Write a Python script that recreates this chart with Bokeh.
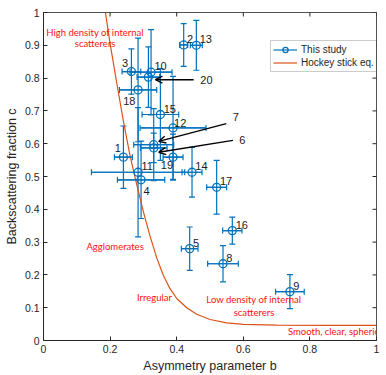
import math
from bokeh.plotting import figure
from bokeh.models import (ColumnDataSource, Whisker, TeeHead, FixedTicker,
                          CustomJSTickFormatter, Legend, LegendItem, Arrow, OpenHead, Range1d)
from bokeh.core.properties import value
from bokeh.embed import file_html
from bokeh.resources import INLINE

# ---- data ----
ids   = ["1", "2", "3", "4", "5", "6", "7", "8", "9", "10",
         "11", "12", "13", "14", "15", "16", "17", "18", "19", "20"]
b     = [0.240, 0.421, 0.264, 0.293, 0.439, 0.331, 0.331, 0.539, 0.740, 0.323,
         0.284, 0.389, 0.459, 0.446, 0.351, 0.567, 0.520, 0.284, 0.389, 0.315]
c     = [0.559, 0.901, 0.820, 0.490, 0.280, 0.587, 0.597, 0.234, 0.149, 0.818,
         0.513, 0.648, 0.900, 0.513, 0.689, 0.335, 0.467, 0.764, 0.559, 0.803]
b_err = [0.027, 0.012, 0.028, 0.071, 0.025, 0.040, 0.060, 0.046, 0.043, 0.063,
         0.140, 0.099, 0.018, 0.030, 0.055, 0.029, 0.030, 0.056, 0.030, 0.034]
c_err = [0.095, 0.065, 0.069, 0.118, 0.066, 0.045, 0.110, 0.055, 0.052, 0.130,
         0.197, 0.157, 0.076, 0.076, 0.140, 0.041, 0.082, 0.158, 0.070, 0.092]

# hockey stick curve
curve_b = [0.186, 0.20, 0.22, 0.24, 0.26, 0.28, 0.30, 0.32, 0.34, 0.36,
           0.38, 0.40, 0.43, 0.46, 0.50, 0.55, 0.60, 0.70, 0.85, 1.0]
curve_c = [1.000, 0.905, 0.785, 0.668, 0.563, 0.475, 0.392, 0.318, 0.252, 0.198,
           0.158, 0.128, 0.100, 0.080, 0.064, 0.054, 0.049, 0.047, 0.046, 0.046]

x_ticks = [0, 0.2, 0.4, 0.6, 0.8, 1]
y_ticks = [0, 0.1, 0.2, 0.3, 0.4, 0.5, 0.6, 0.7, 0.8, 0.9, 1]

region_text = ["High density of internal", "scatterers", "Agglomerates", "Irregular",
               "Low density of internal", "scatterers"]
region_b = [0.155, 0.155, 0.215, 0.333, 0.632, 0.632]
region_c = [0.940, 0.905, 0.287, 0.132, 0.124, 0.086]
edge_text = ["Smooth, clear, spherical"]
edge_b = [0.734]
edge_c = [0.027]

arrow_ids = ["20", "7", "6"]
arrow_b0 = [0.451, 0.549, 0.569]
arrow_c0 = [0.795, 0.661, 0.610]
arrow_b1 = [0.336, 0.346, 0.346]
arrow_c1 = [0.795, 0.607, 0.574]
arrow_label_b = [0.471, 0.568, 0.588]
arrow_label_c = [0.795, 0.680, 0.610]

# label placement offsets (style)
default_off = (0.010, 0.018, "left")
special_off = {"3": (-0.010, 0.025, "right"), "18": (-0.008, -0.033, "right"),
               "1": (-0.008, 0.029, "right"), "4": (0.007, -0.033, "left"),
               "19": (0.0, -0.025, "right"), "12": (0.003, 0.016, "left")}

BLUE = "#0072BD"
ORANGE = "#D95319"
AX = "#262626"
FONT = "Liberation Sans"

p = figure(width=386, height=375, x_range=Range1d(0, 1), y_range=Range1d(0, 1),
           output_backend="svg", toolbar_location=None,
           min_border_left=43, min_border_right=10, min_border_top=12, min_border_bottom=35)
p.background_fill_color = "white"
p.border_fill_color = "white"
p.outline_line_color = AX
p.outline_line_width = 0.8
p.xgrid.visible = False
p.ygrid.visible = False

fmt = CustomJSTickFormatter(code="return String(Math.round(tick*10)/10);")

for ax, ticks in ((p.xaxis[0], x_ticks), (p.yaxis[0], y_ticks)):
    ax.ticker = FixedTicker(ticks=ticks)
    ax.formatter = fmt
    ax.major_tick_in = 4
    ax.major_tick_out = 0
    ax.minor_tick_line_color = None
    ax.axis_line_color = AX
    ax.major_tick_line_color = AX
    ax.major_label_text_font = FONT
    ax.major_label_text_font_size = "10.5px"
    ax.major_label_text_color = AX
    ax.axis_label_text_font = FONT
    ax.axis_label_text_font_size = "12.5px"
    ax.axis_label_text_font_style = "normal"
    ax.axis_label_text_color = AX
    ax.major_label_standoff = 4
    ax.axis_label_standoff = 3
p.xaxis[0].axis_label = "Asymmetry parameter b"
p.yaxis[0].axis_label = "Backscattering fraction c"

# inward ticks on the top and right edges (half of each dash is clipped by the frame)
p.scatter(x=x_ticks, y=[1] * len(x_ticks), marker="dash", size=8, angle=math.pi / 2,
          line_color=AX, line_width=1)
p.scatter(x=[1] * len(y_ticks), y=y_ticks, marker="dash", size=8,
          line_color=AX, line_width=1)

# curve
curve_r = p.line(curve_b, curve_c, line_color=ORANGE, line_width=1.2)

# error bars
src = ColumnDataSource(dict(
    b=b, c=c,
    blo=[v - e for v, e in zip(b, b_err)], bhi=[v + e for v, e in zip(b, b_err)],
    clo=[v - e for v, e in zip(c, c_err)], chi=[v + e for v, e in zip(c, c_err)],
))
for dim, base, lo, hi in (("width", "c", "blo", "bhi"), ("height", "b", "clo", "chi")):
    w = Whisker(source=src, base=base, lower=lo, upper=hi, dimension=dim,
                line_color=BLUE, line_width=1.2,
                upper_head=TeeHead(size=6, line_color=BLUE, line_width=1.2),
                lower_head=TeeHead(size=6, line_color=BLUE, line_width=1.2))
    p.add_layout(w)

# horizontal bars as a glyph too (gives the legend its bar)
hbar = p.segment(x0="blo", y0="c", x1="bhi", y1="c", source=src,
                 line_color=BLUE, line_width=1.2)
pts = p.scatter("b", "c", source=src, marker="circle", size=8, fill_color=None,
                line_color=BLUE, line_width=1.3)

# number labels
lab_x, lab_y, lab_t, lab_a = [], [], [], []
for i, bi, ci in zip(ids, b, c):
    if i in arrow_ids:
        continue
    dx, dy, al = special_off.get(i, default_off)
    lab_x.append(bi + dx); lab_y.append(ci + dy); lab_t.append(i); lab_a.append(al)
for i, bx, cy in zip(arrow_ids, arrow_label_b, arrow_label_c):
    lab_x.append(bx); lab_y.append(cy); lab_t.append(i); lab_a.append("left")
p.text(x=lab_x, y=lab_y, text=lab_t, text_align=lab_a, text_baseline="middle",
       text_font=value(FONT), text_font_size="11px", text_color="#1a1a1a")

# arrows
asrc = ColumnDataSource(dict(x0=arrow_b0, y0=arrow_c0, x1=arrow_b1, y1=arrow_c1))
p.add_layout(Arrow(source=asrc, x_start="x0", y_start="y0", x_end="x1", y_end="y1",
                   line_color="black", line_width=1.4,
                   end=OpenHead(size=7, line_color="black", line_width=1.4)))

# region annotations
p.text(x=region_b, y=region_c, text=region_text, text_align="center", text_baseline="middle",
       text_font=value("Lato"), text_font_size="9.5px", text_color="#ff1010")
p.text(x=edge_b, y=edge_c, text=edge_text, text_align="left", text_baseline="middle",
       text_font=value("Lato"), text_font_size="9.5px", text_color="#ff1010")

legend = Legend(items=[LegendItem(label="This study", renderers=[hbar, pts]),
                       LegendItem(label="Hockey stick eq.", renderers=[curve_r])],
                location=(227, 268), padding=2, spacing=0, margin=0,
                glyph_width=24, glyph_height=13, label_height=13, label_standoff=4,
                label_text_font=FONT, label_text_font_size="10px", label_text_color=AX,
                border_line_color="#9a9a9a", border_line_width=1,
                background_fill_color="white", background_fill_alpha=1)
p.add_layout(legend)

open("out.html", "w").write(file_html(p, INLINE))
